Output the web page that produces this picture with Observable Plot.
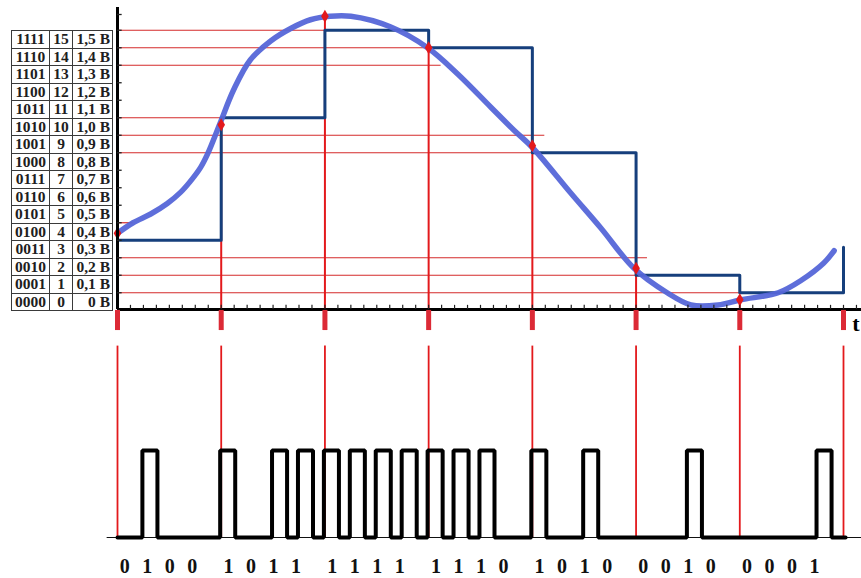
<!DOCTYPE html>
<html>
<head>
<meta charset="utf-8">
<script src="https://cdn.jsdelivr.net/npm/d3@7"></script>
<script src="https://cdn.jsdelivr.net/npm/@observablehq/plot@0.6"></script>
<style>
  html, body { margin: 0; padding: 0; background: #fff; }
  #wrap { position: relative; width: 861px; height: 578px; overflow: hidden; background: #fff; }
  #top, #bottom { position: absolute; left: 0; }
  #top { top: 0; }
  #bottom { top: 335px; }
  table.codes {
    position: absolute; left: 11px; top: 30px;
    border-collapse: collapse; table-layout: fixed; width: 101px;
    font-family: "Liberation Serif", "Times New Roman", serif;
    font-weight: bold; font-size: 15.5px; color: #1e1e1e; background: #fff;
  }
  table.codes td {
    border: 1.5px solid #3a3a3a; padding: 0; height: 17.5px;
    box-sizing: border-box; line-height: 14px; text-align: center; white-space: nowrap;
    overflow: hidden;
  }
  table.codes td.v { text-align: right; padding-right: 2px; }
</style>
</head>
<body>
<div id="wrap">
  <div id="top"></div>
  <div id="bottom"></div>
  <table class="codes" id="codes">
    <colgroup><col style="width:38px"><col style="width:23px"><col style="width:40px"></colgroup>
    <tbody></tbody>
  </table>
</div>
<script>
// Quantisation table: binary code, level number, voltage
const tableCodes  = ["1111","1110","1101","1100","1011","1010","1001","1000","0111","0110","0101","0100","0011","0010","0001","0000"];
const tableLevels = [15,14,13,12,11,10,9,8,7,6,5,4,3,2,1,0];
const tableVolts  = ["1,5 В","1,4 В","1,3 В","1,2 В","1,1 В","1,0 В","0,9 В","0,8 В","0,7 В","0,6 В","0,5 В","0,4 В","0,3 В","0,2 В","0,1 В","0 В"];

// Analogue signal (time in sampling intervals, voltage in volts)
const curveT = [0, 0.15, 0.32, 0.48, 0.61, 0.70, 0.80, 0.87, 0.99, 1.12, 1.28, 1.48, 1.67, 1.86, 2.05, 2.25, 2.63, 2.99, 3.28, 3.60, 3.82, 4.00, 4.37, 4.66, 4.98, 5.30, 5.53, 5.79, 6.01, 6.37, 6.59, 6.81, 6.91];
const curveV = [0.39, 0.45, 0.50, 0.56, 0.625, 0.685, 0.765, 0.845, 1.02, 1.21, 1.38, 1.49, 1.56, 1.61, 1.63, 1.63, 1.57, 1.45, 1.30, 1.11, 0.98, 0.88, 0.62, 0.42, 0.19, 0.05, -0.02, -0.02, 0.01, 0.05, 0.12, 0.22, 0.29];

// Sampling instants and sampled values
const sampleT = [0, 1, 2, 3, 4, 5, 6];
const sampleV = [0.39, 1.01, 1.63, 1.45, 0.89, 0.19, 0.01];

// Held (quantised) levels between samples, and the last riser
const holdV = [0.35, 1.05, 1.55, 1.45, 0.85, 0.15, 0.05];
const lastRiseV = 0.31;

// Reference level lines and where each one stops
const levelLineV   = [1.55, 1.45, 1.35, 1.05, 0.95, 0.85, 0.45, 0.25, 0.15, 0.05];
const levelLineEnd = [2, 3, 3.12, 1, 4.12, 4, 0.15, 5.11, 5, 6.17];

// Transmitted 4-bit codes, one per sample
const codeWords = ["0100", "1011", "1111", "1110", "1010", "0010", "0001"];

// ---- table ----
const tbody = document.querySelector("#codes tbody");
tableCodes.forEach((c, i) => {
  const tr = document.createElement("tr");
  tr.innerHTML = `<td>${c}</td><td>${tableLevels[i]}</td><td class="v">${tableVolts[i]}</td>`;
  tbody.appendChild(tr);
});

// ---- shared time scale ----
const xScale = {domain: [0, 7], range: [117, 843], axis: null};
const RED = "#e3191c";
const axisV = -0.046;            // voltage where the time axis sits

const curve = curveT.map((t, i) => ({t, v: curveV[i]}));
const samples = sampleT.map((t, i) => ({t, v: sampleV[i]}));
const hold = holdV.map((v, i) => ({t: i, v}));
hold.push({t: 7, v: holdV[holdV.length - 1]}, {t: 7, v: lastRiseV});
const levelLines = levelLineV.map((v, i) => ({v, end: levelLineEnd[i]}));
const instants = [0, 1, 2, 3, 4, 5, 6, 7];
const xTicks = d3.range(1, 58).map(k => k / 8);
const yTicks = d3.range(16).map(k => k / 10 + 0.05).concat([1.64]);

const topChart = Plot.plot({
  width: 861, height: 335, margin: 0,
  x: xScale,
  y: {domain: [0, 1.5], range: [301, 38.5], axis: null},
  marks: [
    Plot.ruleY(levelLines, {y: "v", x1: 0, x2: "end", stroke: "#d42b2b", strokeWidth: 1.2}),
    Plot.ruleX(samples.slice(1), {x: "t", y1: "v", y2: axisV, stroke: RED, strokeWidth: 2}),
    Plot.line(hold, {x: "t", y: "v", curve: "step-after", stroke: "#163f7c", strokeWidth: 3}),
    Plot.line(curve, {x: "t", y: "v", curve: "catmull-rom", stroke: "#5566d8", strokeWidth: 5.5, strokeLinecap: "round", strokeOpacity: 0.95}),
    Plot.dot(samples, {x: "t", y: "v", symbol: "diamond", r: 4, fill: RED}),
    // axes
    Plot.ruleX([0], {x: d => d, y1: axisV, y2: 1.68, stroke: "#000", strokeWidth: 3}),
    Plot.ruleY([axisV], {y: d => d, x1: 0, x2: 7.2, stroke: "#000", strokeWidth: 3}),
    Plot.ruleX(xTicks, {x: d => d, y1: axisV, y2: axisV + 0.024, stroke: "#222", strokeWidth: 1.2}),
    Plot.ruleY(yTicks, {y: d => d, x1: 0, x2: 0.045, stroke: "#222", strokeWidth: 1.3}),
    // sample markers below the axis
    Plot.ruleX(instants, {x: d => d, y1: axisV - 0.005, y2: -0.166, stroke: "#dc2a36", strokeWidth: 5}),
    Plot.text(["t"], {x: 7.085, y: -0.13, text: d => d, fontFamily: "Liberation Serif, serif", fontWeight: "bold", fontSize: 22, fill: "#000", textAnchor: "start"})
  ]
});
document.getElementById("top").appendChild(topChart);

// ---- pulse train ----
const bits = [];
codeWords.forEach((w, g) => [...w].forEach((b, j) => bits.push({bit: +b, group: g, pos: j, slot: g + j / 4})));
const pulseWidth = 0.145;
const wave = [{t: 0, v: 0}];
bits.forEach(d => {
  if (d.bit) {
    const s = d.slot - 0.01;
    wave.push({t: s, v: 0}, {t: s, v: 1}, {t: s + pulseWidth, v: 1}, {t: s + pulseWidth, v: 0});
  }
});
wave.push({t: 7.02, v: 0});
const labels = bits.map(d => ({t: d.group + 0.07 + d.pos * 0.217, text: String(d.bit)}));

const bottomChart = Plot.plot({
  width: 861, height: 243, margin: 0,
  x: xScale,
  y: {domain: [0, 1], range: [202, 115], axis: null},
  marks: [
    Plot.ruleX(instants, {x: d => d, y1: 2.2, y2: 0, stroke: RED, strokeWidth: 1.8}),
    Plot.ruleY([0], {y: d => d, x1: -0.1, x2: 7.2, stroke: "#111", strokeWidth: 1.2}),
    Plot.line(wave, {x: "t", y: "v", stroke: "#000", strokeWidth: 4, strokeLinejoin: "miter"}),
    Plot.text(labels, {x: "t", y: -0.33, text: "text", fontFamily: "Liberation Serif, serif", fontWeight: "bold", fontSize: 20, fill: "#111"})
  ]
});
document.getElementById("bottom").appendChild(bottomChart);
</script>
</body>
</html>
